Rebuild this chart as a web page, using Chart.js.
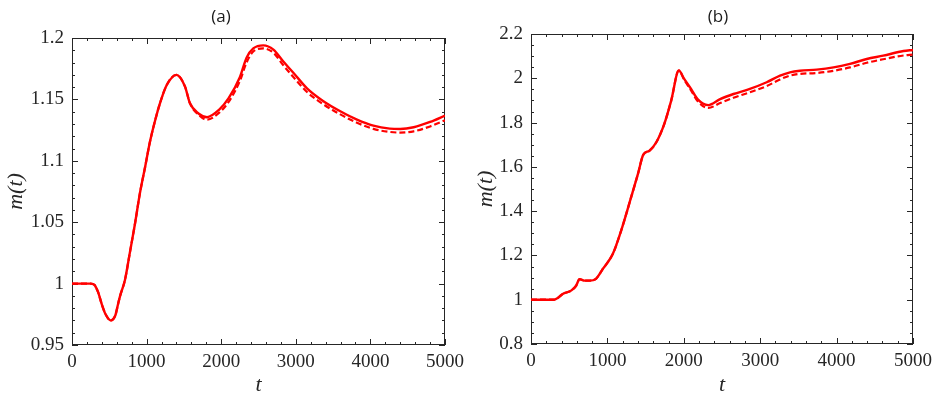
<!DOCTYPE html>
<html>
<head>
<meta charset="utf-8">
<script src="https://cdn.jsdelivr.net/npm/chart.js@4"></script>
<style>
  html, body { margin: 0; padding: 0; background: #fff; }
  #wrap { position: relative; width: 939px; height: 398px; }
  .panel { position: absolute; top: 0; }
</style>
</head>
<body>
<div id="wrap">
  <div class="panel" style="left:0"><canvas id="chartA" width="470" height="398"></canvas></div>
  <div class="panel" style="left:470px"><canvas id="chartB" width="469" height="398"></canvas></div>
</div>
<script>
// panel (a): time samples and m(t)
const tA = [0, 250, 300, 350, 400, 450, 520, 580, 620, 645,
            710, 775, 845, 910, 980, 1045, 1115, 1180, 1270, 1400,
            1515, 1580, 1695, 1810,
            1970, 2100, 2250, 2340, 2430, 2565, 2700, 2830, 2970, 3150,
            3370, 3590, 3820, 4040, 4260, 4400, 4580, 4800, 5000];
const mA = [1.0, 1.0, 0.999, 0.993, 0.983, 0.975, 0.970, 0.974, 0.984, 0.990,
            1.003, 1.025, 1.049, 1.0735, 1.095, 1.1155, 1.133, 1.147, 1.1617, 1.170,
            1.1604, 1.147, 1.1385, 1.1355,
            1.1415, 1.151, 1.168, 1.184, 1.1915, 1.194, 1.1905, 1.181, 1.1715, 1.159,
            1.1485, 1.1405, 1.1335, 1.1286, 1.1262, 1.1259, 1.1273, 1.1316, 1.1368];
const mAdash = [1.0, 1.0, 0.999, 0.993, 0.983, 0.975, 0.970, 0.974, 0.984, 0.990,
            1.003, 1.025, 1.049, 1.0735, 1.095, 1.1155, 1.133, 1.147, 1.1617, 1.170,
            1.1604, 1.147, 1.1375, 1.1335,
            1.139, 1.148, 1.165, 1.180, 1.189, 1.1915, 1.188, 1.178, 1.168, 1.156,
            1.146, 1.138, 1.131, 1.126, 1.1235, 1.123, 1.124, 1.128, 1.133];

// panel (b)
const tB = [0, 300, 350, 415, 525, 590, 635, 700, 765, 850,
            940, 1070, 1180, 1310, 1400, 1470, 1550, 1640, 1745, 1835,
            1935, 2005, 2095, 2180, 2320, 2475, 2650, 2865, 3085, 3260,
            3390, 3520, 3740, 3960, 4175, 4395, 4610, 4875, 5000];
const mB = [1.0, 1.0, 1.008, 1.026, 1.041, 1.063, 1.093, 1.086, 1.086, 1.094,
            1.139, 1.206, 1.312, 1.462, 1.568, 1.655, 1.673, 1.711, 1.794, 1.899,
            2.035, 1.997, 1.952, 1.906, 1.879, 1.906, 1.929, 1.952, 1.982, 2.012,
            2.027, 2.034, 2.039, 2.049, 2.065, 2.087, 2.102, 2.123, 2.128];
const mBdash = [1.0, 1.0, 1.008, 1.026, 1.041, 1.063, 1.093, 1.086, 1.086, 1.094,
            1.139, 1.206, 1.312, 1.462, 1.568, 1.655, 1.673, 1.711, 1.794, 1.899,
            2.035, 1.993, 1.945, 1.897, 1.866, 1.888, 1.912, 1.937, 1.965, 1.995,
            2.012, 2.020, 2.024, 2.034, 2.049, 2.070, 2.086, 2.103, 2.107];

const tickFont = { family: '"Liberation Serif", "Times New Roman", serif', size: 19 };
const axisColor = '#262626';

function toPoints(xs, ys) {
    return xs.map((x, i) => ({ x: x, y: ys[i] }));
}

// box, inward ticks, title and axis labels drawn through the chart's own scales
function framePlugin(cfg) {
    return {
        id: 'frame',
        beforeDatasetsDraw(chart) {
            const ctx = chart.ctx;
            const a = chart.chartArea;
            const xs = chart.scales.x;
            const ys = chart.scales.y;
            ctx.save();
            ctx.strokeStyle = axisColor;
            ctx.lineWidth = 1;
            ctx.strokeRect(a.left + 0.5, a.top + 0.5, a.right - a.left - 1, a.bottom - a.top - 1);

            ctx.beginPath();
            let nx = Math.round((xs.max - xs.min) / cfg.xMinor);
            for (let i = 0; i <= nx; i++) {
                let v = xs.min + i * cfg.xMinor;
                let px = Math.round(xs.getPixelForValue(v)) + 0.5;
                let len = (i % cfg.xEvery === 0) ? 6 : 3;
                ctx.moveTo(px, a.bottom); ctx.lineTo(px, a.bottom - len);
                ctx.moveTo(px, a.top); ctx.lineTo(px, a.top + len);
            }
            let ny = Math.round((ys.max - ys.min) / cfg.yMinor);
            for (let i = 0; i <= ny; i++) {
                let v = ys.min + i * cfg.yMinor;
                let py = Math.round(ys.getPixelForValue(v)) + 0.5;
                let len = (i % cfg.yEvery === 0) ? 6 : 3;
                ctx.moveTo(a.left, py); ctx.lineTo(a.left + len, py);
                ctx.moveTo(a.right, py); ctx.lineTo(a.right - len, py);
            }
            ctx.stroke();

            // title
            ctx.fillStyle = '#1a1a1a';
            ctx.font = '17px "Open Sans", sans-serif';
            ctx.textAlign = 'center';
            ctx.textBaseline = 'middle';
            ctx.fillText(cfg.title, cfg.titleX, 17);

            // axis labels
            ctx.fillStyle = axisColor;
            ctx.font = 'italic 22px "Liberation Serif", serif';
            ctx.fillText('t', (a.left + a.right) / 2, 385);
            ctx.translate(16, (a.top + a.bottom) / 2);
            ctx.rotate(-Math.PI / 2);
            ctx.fillText('m(t)', 0, 0);
            ctx.restore();
        }
    };
}

function makeChart(id, xs, solid, dashed, ySet, frame) {
    let canvas = document.getElementById(id).getContext('2d');
    return new Chart(canvas, {
        type: 'line',
        data: {
            datasets: [
                {
                    data: toPoints(xs, dashed),
                    borderColor: '#ff0000',
                    borderWidth: 2.2,
                    borderDash: [6, 3],
                    pointRadius: 0,
                    cubicInterpolationMode: 'monotone'
                },
                {
                    data: toPoints(xs, solid),
                    borderColor: '#ff0000',
                    borderWidth: 2.4,
                    pointRadius: 0,
                    cubicInterpolationMode: 'monotone'
                }
            ]
        },
        options: {
            responsive: false,
            animation: false,
            layout: { padding: ySet.padding },
            plugins: { legend: { display: false }, tooltip: { enabled: false } },
            scales: {
                x: {
                    type: 'linear',
                    min: 0,
                    max: 5000,
                    grid: { display: false, drawTicks: false },
                    border: { display: false },
                    afterFit: s => { s.height = ySet.xHeight; },
                    ticks: {
                        stepSize: 1000,
                        maxRotation: 0,
                        padding: 6,
                        color: axisColor,
                        font: tickFont,
                        callback: v => String(v)
                    }
                },
                y: {
                    min: ySet.min,
                    max: ySet.max,
                    grid: { display: false, drawTicks: false },
                    border: { display: false },
                    afterFit: s => { s.width = ySet.yWidth; },
                    ticks: {
                        stepSize: ySet.step,
                        padding: 8,
                        color: axisColor,
                        font: tickFont,
                        callback: v => String(Math.round(v * 100) / 100)
                    }
                }
            }
        },
        plugins: [framePlugin(frame)]
    });
}

makeChart('chartA', tA, mA, mAdash,
    { min: 0.95, max: 1.2, step: 0.05, yWidth: 72, xHeight: 53,
      padding: { top: 38, right: 25, bottom: 0, left: 0 } },
    { title: '(a)', titleX: 221, xMinor: 200, xEvery: 5, yMinor: 0.01, yEvery: 5 });

makeChart('chartB', tB, mB, mBdash,
    { min: 0.8, max: 2.2, step: 0.2, yWidth: 61, xHeight: 54,
      padding: { top: 34, right: 26, bottom: 0, left: 0 } },
    { title: '(b)', titleX: 248, xMinor: 200, xEvery: 5, yMinor: 0.05, yEvery: 4 });
</script>
</body>
</html>
